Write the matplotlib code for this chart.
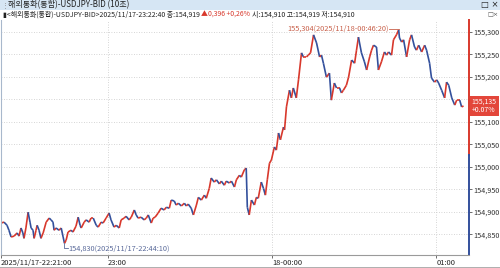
import numpy as np
import matplotlib
matplotlib.use("Agg")
from matplotlib import pyplot as plt
from matplotlib.collections import LineCollection
from matplotlib.patches import Rectangle
from matplotlib.transforms import blended_transform_factory

plt.rcParams['font.family'] = ['Noto Sans CJK KR', 'DejaVu Sans']

# minutes after 2025/11/17 22:21:00
MINUTES = [0.0, 1.1, 2.2, 2.9, 3.7, 4.8, 5.9, 6.6, 7.3, 8.0, 8.4, 9.1, 9.9, 10.6, 11.0,
           11.7, 12.1, 12.8, 13.2, 13.9, 14.6, 15.4, 16.5, 17.6, 18.3, 19.0, 19.4, 20.1,
           21.2, 22.0, 22.7, 23.2, 23.8, 24.5, 25.6, 26.3, 27.4, 28.2, 28.9, 29.3, 30.4,
           31.1, 32.2, 32.9, 33.7, 34.8, 35.5, 36.6, 37.3, 38.4, 39.5, 40.2, 41.3, 42.1,
           43.2, 43.9, 45.0, 45.7, 46.8, 47.6, 48.7, 49.4, 50.1, 51.2, 52.3, 53.1, 53.8,
           54.9, 55.6, 56.3, 57.4, 58.5, 59.6, 60.4, 61.5, 62.2, 63.3, 64.0, 64.8, 65.9,
           67.0, 67.7, 68.4, 69.5, 70.3, 71.4, 72.1, 73.2, 74.3, 75.0, 76.1, 76.8, 77.9,
           78.7, 79.8, 80.5, 81.6, 82.3, 83.4, 84.2, 85.3, 86.0, 87.1, 87.8, 88.9, 89.6,
           90.0, 90.7, 91.5, 92.6, 93.3, 94.0, 95.1, 95.9, 96.6, 97.3, 98.1, 98.8, 99.9,
           100.6, 101.4, 102.1, 103.2, 103.6, 104.3, 105.4, 106.1, 106.8, 107.9, 108.7,
           109.8, 110.5, 111.6, 112.3, 113.1, 114.2, 115.3, 116.4, 117.1, 117.8, 118.9,
           120.0, 120.7, 121.8, 122.6, 123.7, 124.4, 125.1, 126.2, 127.0, 128.1, 129.2,
           129.9, 130.6, 131.7, 132.8, 133.6, 134.7, 135.4, 136.1, 137.2, 137.9, 139.0,
           140.1, 140.9, 141.6, 142.7, 143.4, 144.5, 145.3, 145.6, 146.4, 147.1, 148.2,
           149.3, 150.0, 151.1, 151.8, 152.6, 153.7, 154.8, 155.5, 156.6, 157.3, 158.4,
           159.2, 159.9, 161.0, 162.1, 162.8, 163.6, 164.7, 165.8, 166.5, 167.6, 168.3,
           169.0]

PRICES = [154.875, 154.877, 154.870, 154.859, 154.844, 154.846, 154.853, 154.846, 154.864,
          154.853, 154.841, 154.864, 154.899, 154.877, 154.864, 154.859, 154.841, 154.859,
          154.870, 154.859, 154.841, 154.853, 154.877, 154.886, 154.882, 154.877, 154.859,
          154.864, 154.859, 154.864, 154.844, 154.830, 154.837, 154.855, 154.859, 154.855,
          154.868, 154.888, 154.870, 154.864, 154.877, 154.882, 154.877, 154.886, 154.886,
          154.870, 154.866, 154.877, 154.875, 154.886, 154.897, 154.882, 154.866, 154.870,
          154.864, 154.882, 154.886, 154.890, 154.882, 154.888, 154.904, 154.893, 154.886,
          154.888, 154.882, 154.886, 154.893, 154.875, 154.886, 154.888, 154.897, 154.908,
          154.904, 154.910, 154.908, 154.926, 154.924, 154.915, 154.919, 154.913, 154.919,
          154.913, 154.917, 154.908, 154.893, 154.915, 154.932, 154.926, 154.937, 154.930,
          154.952, 154.975, 154.966, 154.971, 154.962, 154.968, 154.959, 154.968, 154.964,
          154.968, 154.955, 154.971, 154.981, 154.977, 154.993, 154.997, 154.910, 154.893,
          154.926, 154.915, 154.932, 154.930, 154.966, 154.952, 154.937, 154.971, 155.008,
          155.015, 155.044, 155.037, 155.075, 155.060, 155.088, 155.082, 155.133, 155.170,
          155.153, 155.175, 155.153, 155.193, 155.253, 155.244, 155.244, 155.248, 155.253,
          155.293, 155.275, 155.244, 155.248, 155.230, 155.199, 155.208, 155.148, 155.186,
          155.175, 155.175, 155.164, 155.170, 155.181, 155.199, 155.237, 155.230, 155.259,
          155.288, 155.253, 155.233, 155.215, 155.244, 155.259, 155.270, 155.266, 155.215,
          155.233, 155.255, 155.248, 155.255, 155.248, 155.282, 155.293, 155.304, 155.286,
          155.277, 155.282, 155.244, 155.282, 155.293, 155.266, 155.259, 155.270, 155.255,
          155.270, 155.259, 155.230, 155.197, 155.188, 155.193, 155.186, 155.170, 155.153,
          155.188, 155.181, 155.153, 155.137, 155.148, 155.148, 155.133, 155.135]

Y_TICKS = [154.85, 154.90, 154.95, 155.00, 155.05, 155.10, 155.15, 155.20, 155.25, 155.30]
X_TICKS = [0, 39, 99, 159]
X_LABELS = ["2025/11/17-22:21:00", "23:00", "18-00:00", "01:00"]

REF_PRICE = 155.027
LAST_CHANGE = "+0.07%"
HIGH_LABEL = "155,304(2025/11/18-00:46:20)"
LOW_LABEL = "154,830(2025/11/17-22:44:10)"

RED = '#d8382c'
BLUE = '#33509c'
W, H = 500, 268

fig = plt.figure(figsize=(5.0, 2.68), dpi=100)

def fx(px):
    return px / W

def fy(py):
    return 1 - py / H

# header bar
fig.patches.append(Rectangle((0, fy(10)), 1, 10 / H, transform=fig.transFigure,
                             facecolor='#d6e6f4', edgecolor='none', zorder=0))
fig.text(fx(2), fy(5), "⋮", fontsize=5, color='#888888', va='center')
fig.text(fx(8), fy(5), "해외통화(통합)-USDJPY-BID (10초)", fontsize=5.8, color='#222222', va='center')
fig.text(fx(481), fy(5), "□ ×", fontsize=6, color='#222222', va='center', family='DejaVu Sans')

# info line
y2 = fy(14.5)
t1 = fig.text(fx(3), y2, "▮<해외통화(통합)-USDJPY-BID>2025/11/17-23:22:40 종:154,919 ",
              fontsize=5.0, color='#222222', va='center')
fig.canvas.draw()
bb = t1.get_window_extent()
t2 = fig.text(bb.x1 / fig.bbox.width, y2, "▲0,396 +0,26% ", fontsize=5.0, color=RED, va='center')
fig.canvas.draw()
bb = t2.get_window_extent()
fig.text(bb.x1 / fig.bbox.width, y2, "시:154,910 고:154,919 저:154,910",
         fontsize=5.0, color='#222222', va='center')
fig.text(fx(487), y2, "□×", fontsize=4.5, color='#555555', va='center', family='DejaVu Sans')

ax = fig.add_axes([fx(1), fy(255), fx(468), (255 - 20) / H])
ax.set_xlim(0, 171)
ax.set_ylim(154.804, 155.326)

t = np.array(MINUTES)
p = np.array(PRICES)
segs = np.stack([np.column_stack([t[:-1], p[:-1]]), np.column_stack([t[1:], p[1:]])], axis=1)
cols = [RED if d >= 0 else BLUE for d in np.diff(p)]
ax.add_collection(LineCollection(segs, colors=cols, linewidths=1.2))

# grid
last = PRICES[-1]
ax.set_yticks(Y_TICKS)
# the 155,150 label sits under the last-price tag
ax.set_yticklabels(["" if abs(v - last) < 0.02 else f"{v:.3f}".replace('.', ',') for v in Y_TICKS])
ax.set_xticks(X_TICKS)
ax.set_xticklabels(X_LABELS, ha='left')
ax.grid(True, linestyle=(0, (1, 2)), color='#c8c8c8', linewidth=0.6)
ax.yaxis.tick_right()
ax.tick_params(axis='y', labelsize=5.2, length=2, width=0.5, pad=1, colors='#333333')
ax.tick_params(axis='x', labelsize=5.4, length=2, width=0.5, pad=1, colors='#333333')
for lab in ax.get_xticklabels():
    lab.set_color('#222222')

for s in ['top', 'right']:
    ax.spines[s].set_visible(False)
ax.spines['left'].set_color('#a8b8cc')
ax.spines['bottom'].set_color('#9a9a9a')
ax.spines['bottom'].set_linewidth(0.8)

# right edge bar split at reference price
frac = (REF_PRICE - 154.804) / (155.326 - 154.804)
ax.axvline(171, ymin=frac, ymax=1, color=RED, linewidth=1.4, clip_on=False)
ax.axvline(171, ymin=0, ymax=frac, color=BLUE, linewidth=1.4, clip_on=False)

# last price tag
tr = blended_transform_factory(ax.transAxes, ax.transData)
ax.text(1.006, last, f"{last:.3f}".replace('.', ',') + "\n" + LAST_CHANGE, transform=tr,
        fontsize=5.0, color='white', ha='left', va='center', linespacing=0.95, zorder=10,
        bbox=dict(boxstyle='square,pad=0.25', facecolor='#e3463a', edgecolor='none'),
        clip_on=False)

# high / low markers
hi = int(np.argmax(p))
lo = int(np.argmin(p))
ax.plot([t[hi] - 3.5, t[hi]], [p[hi] + 0.002, p[hi] + 0.002], color='#c8604a', linewidth=0.6)
ax.text(t[hi] - 3.6, p[hi] + 0.002, HIGH_LABEL, fontsize=5.3, color='#c8604a',
        ha='right', va='center')
ax.plot([t[lo], t[lo], t[lo] + 1.2], [p[lo], p[lo] - 0.011, p[lo] - 0.011],
        color='#5a6a9a', linewidth=0.6)
ax.text(t[lo] + 1.3, p[lo] - 0.011, LOW_LABEL, fontsize=5.3, color='#5a6a9a',
        ha='left', va='center')

# bottom frame line
fig.patches.append(Rectangle((0, 0), 1, 1.5 / H, transform=fig.transFigure,
                             facecolor='#b0b0b0', edgecolor='none'))

fig.savefig("out.png", dpi=100)
